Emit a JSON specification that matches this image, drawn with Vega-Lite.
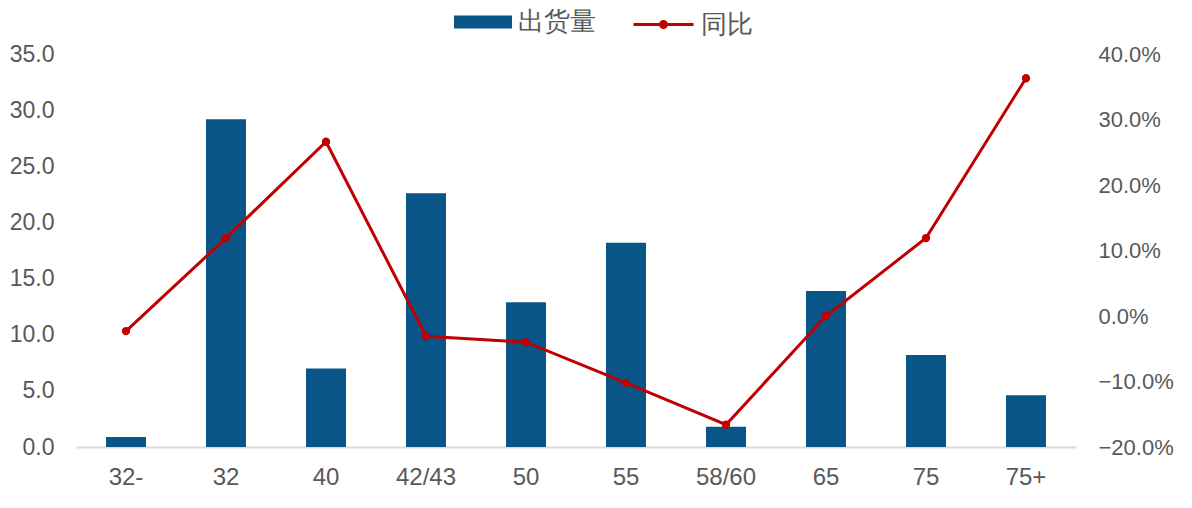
{
  "$schema": "https://vega.github.io/schema/vega-lite/v6.json",
  "autosize": "none",
  "width": 1000,
  "height": 393,
  "padding": {"left": 76, "top": 54, "right": 116, "bottom": 61},
  "background": "white",
  "config": {
    "view": {"stroke": null},
    "font": "Liberation Sans",
    "axis": {"labelFont": "Liberation Sans", "labelFontSize": 23, "labelColor": "#595959", "grid": false, "ticks": false, "tickSize": 0, "title": null},
    "legend": {"labelFont": "Liberation Sans", "labelFontSize": 26, "labelColor": "#595959", "padding": 0, "title": null}
  },
  "data": {
    "values": [
      {"size": "32-", "shipments": 0.9, "yoy": -0.023},
      {"size": "32", "shipments": 29.2, "yoy": 0.119},
      {"size": "40", "shipments": 7.0, "yoy": 0.266},
      {"size": "42/43", "shipments": 22.6, "yoy": -0.031},
      {"size": "50", "shipments": 12.9, "yoy": -0.04},
      {"size": "55", "shipments": 18.2, "yoy": -0.102},
      {"size": "58/60", "shipments": 1.8, "yoy": -0.166},
      {"size": "65", "shipments": 13.9, "yoy": 0.0},
      {"size": "75", "shipments": 8.2, "yoy": 0.119},
      {"size": "75+", "shipments": 4.6, "yoy": 0.363}
    ]
  },
  "encoding": {
    "x": {
      "field": "size", "type": "nominal", "sort": null,
      "scale": {"paddingInner": 0.6, "paddingOuter": 0.3},
      "axis": {"labelAngle": 0, "domainColor": "#d9d9d9", "domainWidth": 2, "labelPadding": 18, "labelFontSize": 24}
    }
  },
  "layer": [
    {
      "mark": {"type": "bar", "color": "#0a5587"},
      "encoding": {
        "y": {
          "field": "shipments", "type": "quantitative",
          "scale": {"domain": [0, 35], "nice": false},
          "axis": {"values": [0, 5, 10, 15, 20, 25, 30, 35], "format": ".1f", "domain": false, "labelPadding": 22, "orient": "left"}
        },
        "fill": {
          "datum": "出货量",
          "scale": {"range": ["#0a5587"]},
          "legend": {"orient": "none", "legendX": 378, "legendY": -61, "symbolType": "M-1,-0.224H1V0.224H-1Z", "symbolSize": 3364, "symbolStrokeWidth": 0, "labelOffset": 6}
        }
      }
    },
    {
      "mark": {"type": "line", "strokeWidth": 3, "point": {"filled": true, "size": 40, "color": "#c00000"}},
      "encoding": {
        "y": {
          "field": "yoy", "type": "quantitative",
          "scale": {"domain": [-0.2, 0.4], "nice": false, "zero": false},
          "axis": {"values": [-0.2, -0.1, 0, 0.1, 0.2, 0.3, 0.4], "format": ".1%", "domain": false, "labelPadding": 22, "labelFontSize": 22, "orient": "right"}
        },
        "stroke": {
          "datum": "同比",
          "scale": {"range": ["#c00000"]},
          "legend": {"orient": "none", "legendX": 556, "legendY": -61, "symbolType": "M-1,0H1M0.1,0A0.1,0.1,0,1,1,-0.1,0A0.1,0.1,0,1,1,0.1,0", "symbolFillColor": "#c00000", "symbolSize": 3600, "symbolStrokeWidth": 3, "labelOffset": 6}
        }
      }
    }
  ],
  "resolve": {"scale": {"y": "independent", "fill": "independent", "stroke": "independent"}}
}
